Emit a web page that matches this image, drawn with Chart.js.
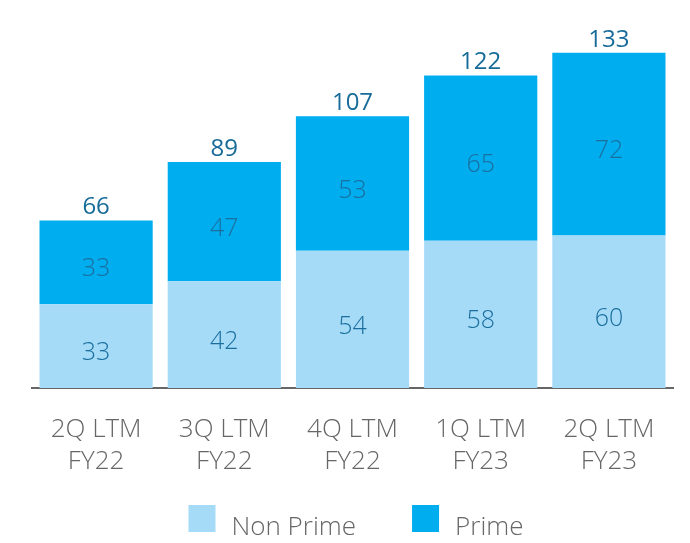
<!DOCTYPE html>
<html>
<head>
<meta charset="utf-8">
<script src="https://cdn.jsdelivr.net/npm/chart.js@4"></script>
<style>
  html, body { margin: 0; padding: 0; background: #fff; }
  #wrap { width: 690px; height: 543px; }
</style>
</head>
<body>
<div id="wrap"><canvas id="chart"></canvas></div>
<script>
// chart data
const categories = [['2Q LTM', 'FY22'], ['3Q LTM', 'FY22'], ['4Q LTM', 'FY22'], ['1Q LTM', 'FY23'], ['2Q LTM', 'FY23']];
const nonPrime = [33, 42, 54, 58, 60];
const prime = [33, 47, 53, 65, 72];
const totals = [66, 89, 107, 122, 133];

const FONT = "'Open Sans', 'Noto Sans', sans-serif";

// draws values inside the segments and totals on top
const barLabels = {
    id: 'barLabels',
    afterDatasetsDraw(chart) {
        const ctx = chart.ctx;
        ctx.save();
        ctx.textAlign = 'center';
        ctx.textBaseline = 'middle';
        chart.data.datasets.forEach((ds, i) => {
            const meta = chart.getDatasetMeta(i);
            meta.data.forEach((bar, j) => {
                const mid = (bar.y + bar.base) / 2 + 7;
                ctx.font = '300 25px ' + FONT;
                ctx.fillStyle = '#1a6f9f';
                ctx.fillText(ds.data[j], bar.x, mid);
            });
        });
        const top = chart.getDatasetMeta(chart.data.datasets.length - 1);
        top.data.forEach((bar, j) => {
            ctx.font = '400 24px ' + FONT;
            ctx.fillStyle = '#176b99';
            ctx.textBaseline = 'bottom';
            ctx.fillText(totals[j], bar.x, bar.y - 1);
        });
        ctx.restore();
    }
};

// simple legend drawn under the axis labels
const bottomLegend = {
    id: 'bottomLegend',
    afterDraw(chart) {
        const ctx = chart.ctx;
        const items = chart.data.datasets;
        const box = 27, textGap = 16, itemGap = 56;
        ctx.save();
        ctx.font = '300 26px ' + FONT;
        const widths = items.map(ds => box + textGap + ctx.measureText(ds.label).width);
        const total = widths.reduce((a, b) => a + b, 0) + itemGap * (items.length - 1);
        let x = 356 - total / 2;
        const y = 505;
        items.forEach((ds, i) => {
            ctx.fillStyle = ds.backgroundColor;
            ctx.fillRect(x, y, box, box);
            ctx.fillStyle = '#666';
            ctx.textAlign = 'left';
            ctx.textBaseline = 'alphabetic';
            ctx.fillText(ds.label, x + box + textGap, 535);
            x += widths[i] + itemGap;
        });
        ctx.restore();
    }
};

new Chart(document.getElementById('chart'), {
    type: 'bar',
    data: {
        labels: categories,
        datasets: [
            {
                label: 'Non Prime',
                data: nonPrime,
                backgroundColor: '#a6dbf8',
                barPercentage: 1,
                categoryPercentage: 0.883
            },
            {
                label: 'Prime',
                data: prime,
                backgroundColor: '#00adef',
                barPercentage: 1,
                categoryPercentage: 0.883
            }
        ]
    },
    options: {
        responsive: true,
        maintainAspectRatio: false,
        animation: false,
        layout: {
            padding: { left: 32, right: 17, top: 7, bottom: 39 }
        },
        plugins: {
            legend: { display: false },
            tooltip: { enabled: false }
        },
        scales: {
            x: {
                stacked: true,
                grid: { display: false, drawTicks: false },
                border: { display: true, color: '#666', width: 2 },
                ticks: {
                    color: '#666',
                    padding: 26,
                    font: { family: FONT, size: 26, weight: '300', lineHeight: 1.23 }
                }
            },
            y: {
                stacked: true,
                display: false,
                min: 0,
                max: 150
            }
        }
    },
    plugins: [barLabels, bottomLegend]
});
</script>
</body>
</html>
